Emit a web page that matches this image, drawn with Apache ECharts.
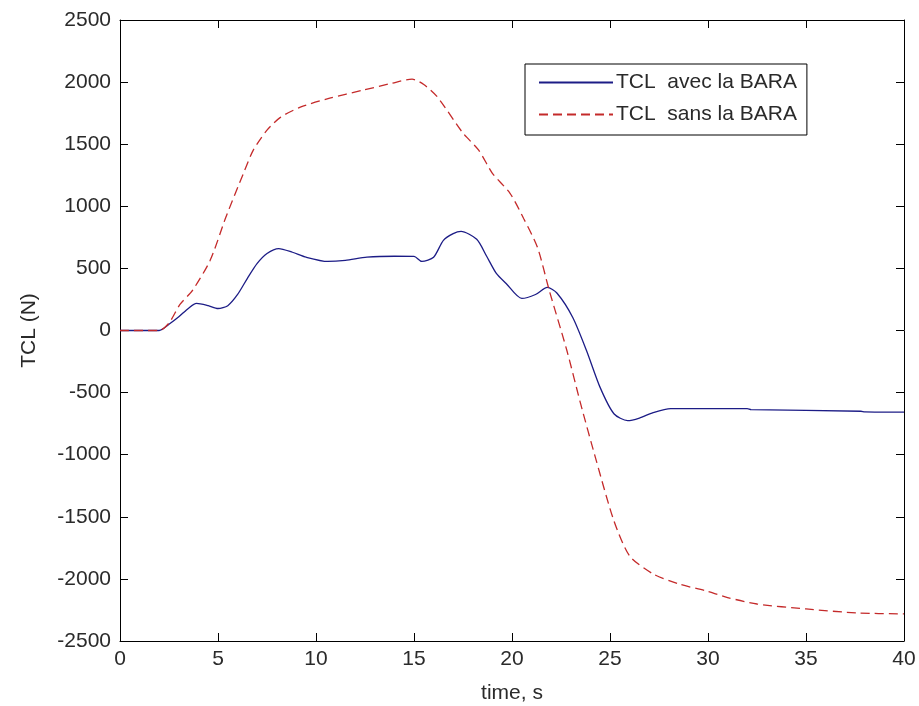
<!DOCTYPE html>
<html>
<head>
<meta charset="utf-8">
<script src="https://cdn.jsdelivr.net/npm/echarts@6/dist/echarts.min.js"></script>
<style>
  html, body { margin: 0; padding: 0; background: #fff; }
  #chart { width: 919px; height: 706px; }
</style>
</head>
<body>
<div id="chart"></div>
<script>
// Cable tension over time, with and without the BARA device
const seriesNames = ['TCL  avec la BARA', 'TCL  sans la BARA'];

const avecTime = [0, 2, 2.5, 3, 3.5, 3.9, 4.5, 5.0, 5.5, 6.0, 6.5, 7.0, 7.5, 8.1, 8.8, 9.5, 10.6, 11.5, 12.6, 14, 15, 15.4, 16, 16.5, 17, 17.4, 18.2, 18.7, 19.2, 19.7, 20.5, 21.2, 21.8, 22.3, 23.1, 23.8, 24.5, 25.2, 25.9, 26.5, 27.2, 28.1, 32, 32.2, 37.8, 38, 40];
const avecValues = [0, 0, 50, 110, 180, 218, 200, 177, 200, 290, 420, 540, 620, 660, 630, 590, 556, 565, 590, 598, 597, 556, 590, 726, 780, 798, 734, 600, 460, 379, 258, 290, 347, 300, 105, -161, -460, -670, -726, -705, -661, -629, -629, -637, -650, -655, -658];

const sansTime = [0, 2, 2.5, 3.06, 3.7, 4.6, 5.4, 6.3, 6.8, 7.5, 8.2, 9.2, 10.7, 12.4, 13.9, 14.9, 15.5, 16.2, 17.5, 18.3, 19.0, 19.9, 20.6, 21.3, 21.9, 22.8, 23.5, 24.3, 25.2, 26, 27.2, 28.5, 29.9, 31, 32.5, 35, 37.6, 40];
const sansValues = [0, 0, 60, 210, 323, 565, 911, 1266, 1452, 1613, 1718, 1798, 1871, 1935, 1992, 2024, 1980, 1879, 1589, 1452, 1266, 1105, 900, 669, 323, -161, -589, -1048, -1532, -1815, -1960, -2040, -2097, -2150, -2202, -2242, -2274, -2282];

const xTicks = { min: 0, max: 40, interval: 5 };
const yTicks = { min: -2500, max: 2500, interval: 500 };

const pair = (ts, vs) => ts.map((t, i) => [t, vs[i]]);

const FONT = 'Liberation Sans, Arial, sans-serif';
const labelStyle = { color: '#2a2a2a', fontSize: 21, fontFamily: FONT };

// plain integers, no thousands separators
const plain = v => String(v);

const boxAxis = {
  axisLine: { show: true, onZero: false, lineStyle: { color: '#000', width: 1 } },
  axisTick: { show: true, inside: true, length: 8, lineStyle: { color: '#000' } },
  splitLine: { show: false }
};

const chart = echarts.init(document.getElementById('chart'), null, { renderer: 'canvas' });
chart.setOption({
  backgroundColor: '#fff',
  animation: false,
  grid: { left: 120, right: 15, top: 20, bottom: 65, containLabel: false, outerBoundsMode: 'none' },
  xAxis: [
    Object.assign({
      type: 'value', position: 'bottom',
      min: xTicks.min, max: xTicks.max, interval: xTicks.interval,
      axisLabel: Object.assign({ margin: 8, formatter: plain }, labelStyle),
      name: 'time, s', nameLocation: 'middle', nameGap: 42,
      nameTextStyle: labelStyle
    }, boxAxis),
    Object.assign({
      type: 'value', position: 'top',
      min: xTicks.min, max: xTicks.max, interval: xTicks.interval,
      axisLabel: { show: false }
    }, boxAxis)
  ],
  yAxis: [
    Object.assign({
      type: 'value', position: 'left',
      min: yTicks.min, max: yTicks.max, interval: yTicks.interval,
      axisLabel: Object.assign({ margin: 9, formatter: plain }, labelStyle),
      name: 'TCL (N)', nameLocation: 'middle', nameGap: 80,
      nameTextStyle: labelStyle
    }, boxAxis),
    Object.assign({
      type: 'value', position: 'right',
      min: yTicks.min, max: yTicks.max, interval: yTicks.interval,
      axisLabel: { show: false }
    }, boxAxis)
  ],
  legend: {
    orient: 'vertical',
    left: 525, top: 64,
    padding: [8, 10, 10, 13],
    itemGap: 11,
    itemWidth: 74, itemHeight: 14,
    backgroundColor: '#fff',
    borderColor: '#000', borderWidth: 1, borderRadius: 0,
    itemStyle: { opacity: 0 },
    textStyle: Object.assign({ padding: [0, 0, 0, -2] }, labelStyle),
    data: seriesNames
  },
  series: [
    {
      name: seriesNames[0], type: 'line', smooth: 0.25, symbol: 'none',
      xAxisIndex: 0, yAxisIndex: 0,
      lineStyle: { color: '#1c1c86', width: 1.3, type: 'solid' },
      itemStyle: { color: '#1c1c86' },
      data: pair(avecTime, avecValues)
    },
    {
      name: seriesNames[1], type: 'line', smooth: 0.25, symbol: 'none',
      xAxisIndex: 0, yAxisIndex: 0,
      lineStyle: { color: '#c42a2a', width: 1.3, type: [9, 5] },
      itemStyle: { color: '#c42a2a' },
      data: pair(sansTime, sansValues)
    }
  ]
});
</script>
</body>
</html>
